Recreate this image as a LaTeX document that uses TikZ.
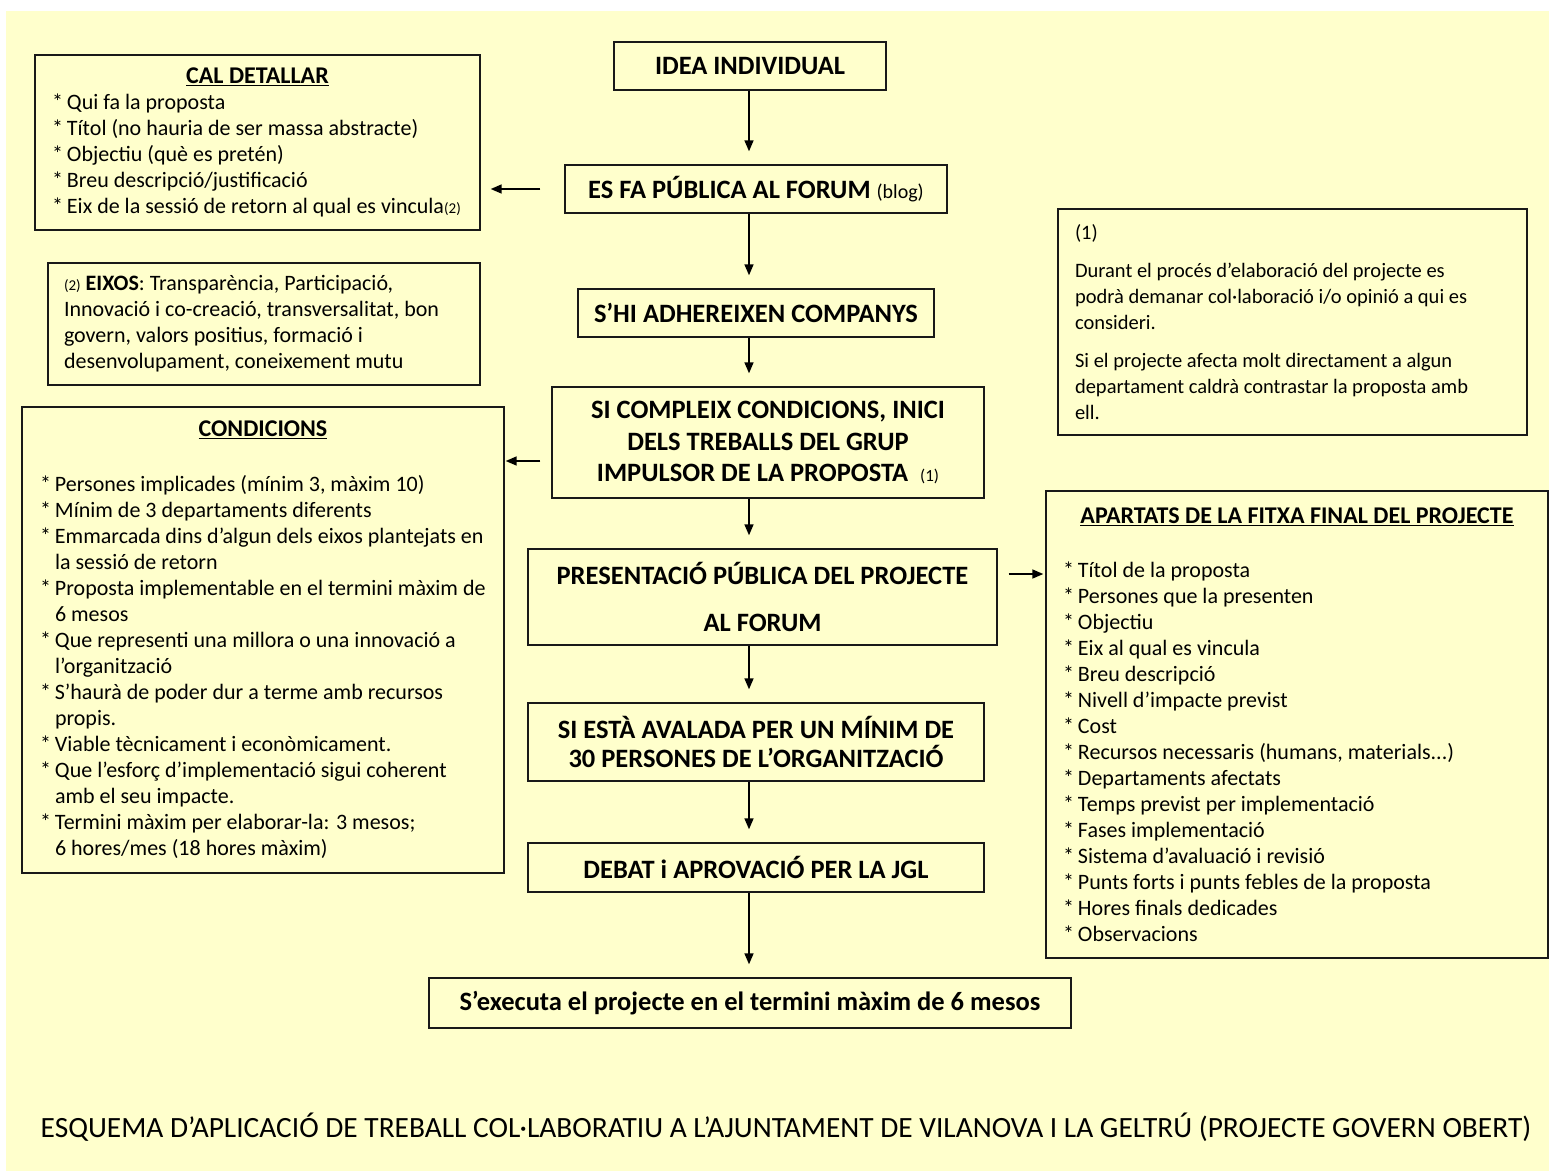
\documentclass[tikz,border=0pt]{standalone}
\usepackage{fontspec}
\setmainfont{Carlito}
\usetikzlibrary{arrows.meta,calc,positioning}
\definecolor{paper}{RGB}{255,255,204}

\tikzset{
  flowbox/.style={draw=black!90, line width=1.4pt, align=center, inner sep=0pt,
    font=\bfseries\fontsize{26.5}{31.5}\selectfont},
  notebox/.style={draw=black!90, line width=1.4pt, align=left, inner sep=0pt,
    font=\fontsize{22}{26}\selectfont},
  flowarrow/.style={line width=1.6pt, -{Triangle[length=11pt,width=9pt]}},
}
\newcommand{\itm}{\makebox[15pt][l]{*}}
\newcommand{\cnt}{\hspace*{15pt}}
\newcommand{\boxtitle}[2]{\makebox[#1]{\bfseries\fontsize{24}{26}\selectfont\underline{#2}}}

\begin{document}
\begin{tikzpicture}[x=1pt,y=-1pt]
  % Page and background
  \useasboundingbox (0,0) rectangle (1549,1171);
  \fill[white] (0,0) rectangle (1549,1171);
  \fill[paper] (6,11) rectangle (1549,1171);

  % Main flow
  \node[flowbox, minimum width=272, minimum height=48] (idea) at (750,66) {IDEA INDIVIDUAL};
  \node[flowbox, minimum width=382, minimum height=48] (forum) at (756,189)
    {ES FA PÚBLICA AL FORUM {\mdseries\fontsize{20}{22}\selectfont(blog)}};
  \node[flowbox, minimum width=356, minimum height=48] (adher) at (756,313) {S’HI ADHEREIXEN COMPANYS};
  \node[flowbox, minimum width=432, minimum height=111] (inici) at (768,442.5)
    {SI COMPLEIX CONDICIONS, INICI\\DELS TREBALLS DEL GRUP\\IMPULSOR DE LA PROPOSTA\ \ {\mdseries\fontsize{17}{18}\selectfont(1)}};
  \node[flowbox, minimum width=469, minimum height=96] (presenta) at (762.5,597)
    {PRESENTACIÓ PÚBLICA DEL PROJECTE\\[15pt]AL FORUM};
  \node[flowbox, minimum width=456, minimum height=78] (avalada) at (756,742)
    {SI ESTÀ AVALADA PER UN MÍNIM DE\\[-2pt]30 PERSONES DE L’ORGANITZACIÓ};
  \node[flowbox, minimum width=456, minimum height=49] (debat) at (756,867.5) {DEBAT i APROVACIÓ PER LA JGL};
  \node[flowbox, minimum width=642, minimum height=50] (executa) at (750,1003)
    {S’executa el projecte en el termini màxim de 6 mesos};

  % Side notes
  \node[notebox, minimum width=445, minimum height=175] (cal) at (257.5,142.5) {%
    \boxtitle{411pt}{CAL DETALLAR}\\
    \itm Qui fa la proposta\\
    \itm Títol (no hauria de ser massa abstracte)\\
    \itm Objectiu (què es pretén)\\
    \itm Breu descripció/justificació\\
    \itm Eix de la sessió de retorn al qual es vincula{\fontsize{15}{16}\selectfont(2)}};
  \node[notebox, minimum width=432, minimum height=122] (eixos) at (264,324) {%
    \makebox[400pt][l]{{\fontsize{15}{16}\selectfont(2)} \textbf{EIXOS}: Transparència, Participació,}\\
    Innovació i co-creació, transversalitat, bon\\
    govern, valors positius, formació i\\
    desenvolupament, coneixement mutu};
  \node[notebox, minimum width=482, minimum height=466] (cond) at (263,640) {%
    \boxtitle{446pt}{CONDICIONS}\\[29pt]
    \itm Persones implicades (mínim 3, màxim 10)\\
    \itm Mínim de 3 departaments diferents\\
    \itm Emmarcada dins d’algun dels eixos plantejats en\\
    \cnt la sessió de retorn\\
    \itm Proposta implementable en el termini màxim de\\
    \cnt 6 mesos\\
    \itm Que representi una millora o una innovació a\\
    \cnt l’organització\\
    \itm S’haurà de poder dur a terme amb recursos\\
    \cnt propis.\\
    \itm Viable tècnicament i econòmicament.\\
    \itm Que l’esforç d’implementació sigui coherent\\
    \cnt amb el seu impacte.\\
    \itm Termini màxim per elaborar-la: 3 mesos;\\
    \cnt 6 hores/mes (18 hores màxim)};
  \node[notebox, minimum width=469, minimum height=226, font=\fontsize{20.5}{26}\selectfont] (nota) at (1292.5,322) {%
    \makebox[435pt][l]{(1)}\\[12pt]
    Durant el procés d’elaboració del projecte es\\
    podrà demanar col·laboració i/o opinió a qui es\\
    consideri.\\[12pt]
    Si el projecte afecta molt directament a algun\\
    departament caldrà contrastar la proposta amb\\
    ell.};
  \node[notebox, minimum width=502, minimum height=467] (fitxa) at (1297,724.5) {%
    \boxtitle{468pt}{APARTATS DE LA FITXA FINAL DEL PROJECTE}\\[28pt]
    \itm Títol de la proposta\\
    \itm Persones que la presenten\\
    \itm Objectiu\\
    \itm Eix al qual es vincula\\
    \itm Breu descripció\\
    \itm Nivell d’impacte previst\\
    \itm Cost\\
    \itm Recursos necessaris (humans, materials...)\\
    \itm Departaments afectats\\
    \itm Temps previst per implementació\\
    \itm Fases implementació\\
    \itm Sistema d’avaluació i revisió\\
    \itm Punts forts i punts febles de la proposta\\
    \itm Hores finals dedicades\\
    \itm Observacions};

  % Title
  \node[font=\fontsize{29.4}{32}\selectfont] (titol) at (786,1127)
    {ESQUEMA D’APLICACIÓ DE TREBALL COL·LABORATIU A L’AJUNTAMENT DE VILANOVA I LA GELTRÚ (PROJECTE GOVERN OBERT)};

  % Arrows down the flow
  \coordinate (spine) at (749,0);
  \foreach \a/\b in {idea/forum, forum/adher, adher/inici, inici/presenta,
                     presenta/avalada, avalada/debat, debat/executa}
    \draw[flowarrow, shorten >=13pt] (\a.south -| spine) -- (\b.north -| spine);

  % Arrows to the side notes
  \draw[flowarrow, shorten <=24pt, shorten >=10pt] (forum.west) -- (forum.west -| cal.east);
  \coordinate (inici-out) at ($(inici.west)+(0,18.5)$);
  \draw[flowarrow, shorten <=11pt, shorten >=1pt] (inici-out) -- (inici-out -| cond.east);
  \coordinate (pres-out) at ($(presenta.east)+(0,-23)$);
  \draw[flowarrow, shorten <=11pt, shorten >=2pt] (pres-out) -- (pres-out -| fitxa.west);
\end{tikzpicture}
\end{document}
